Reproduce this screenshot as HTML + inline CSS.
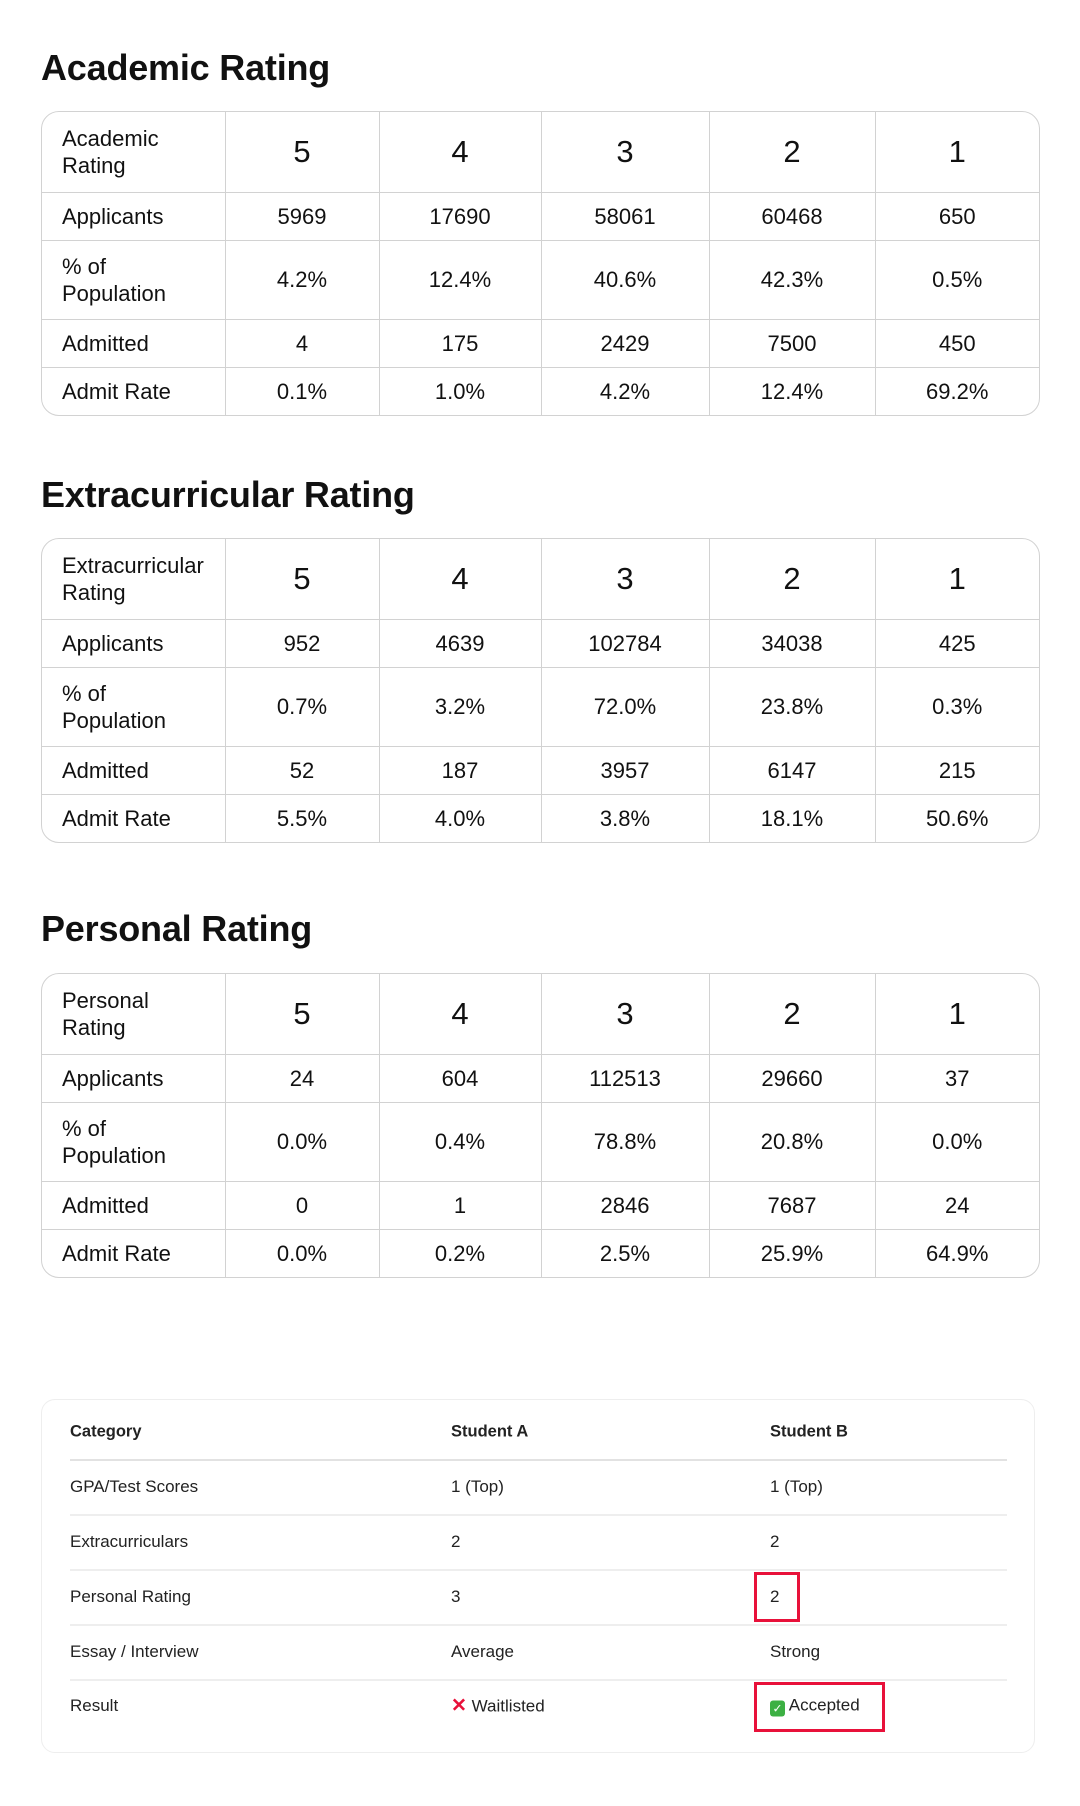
<!DOCTYPE html>
<html><head><meta charset="utf-8"><style>
body{margin:0;background:#fff;width:1080px;height:1806px;position:relative;font-family:"Liberation Sans",sans-serif;color:#111;}
h2{position:absolute;left:41px;margin:0;font-size:36px;font-weight:900;line-height:1;letter-spacing:-0.2px;}
.t{position:absolute;left:41px;width:999px;border:1.5px solid #d2d2d2;border-radius:18px;overflow:hidden;box-sizing:border-box;}
.t table{border-collapse:collapse;width:100%;table-layout:fixed;}
.t td{border-right:1.5px solid #d2d2d2;border-bottom:1.5px solid #d2d2d2;text-align:center;font-size:22px;padding:0;}
.t td:last-child{border-right:none}
.t tr:last-child td{border-bottom:none}
.t td:first-child{text-align:left;padding-left:20px;line-height:27px}
.t tr.h td{font-size:31px;height:80px}
.t tr.h td:first-child{font-size:22px}
.t tr.a td{height:47px}
.t tr.p td{height:78px}
.card{position:absolute;left:41px;top:1399px;width:994px;height:354px;border:1.5px solid #eee;border-radius:14px;box-sizing:border-box;}
.c{position:absolute;font-size:17px;color:#222;transform:translateY(-50%);}
.b{font-weight:bold;font-size:16.5px}
.ln{position:absolute;left:70px;width:937px;height:1.5px;background:#eee}
.box{position:absolute;border:3px solid #e8113a;box-sizing:border-box}
</style></head><body>

<h2 style="top:50px">Academic Rating</h2>
<div class="t" style="top:111px"><table>
<colgroup><col style="width:183px"><col style="width:154px"><col style="width:162px"><col style="width:168px"><col style="width:166px"><col></colgroup>
<tr class="h"><td>Academic<br>Rating</td><td>5</td><td>4</td><td>3</td><td>2</td><td>1</td></tr>
<tr class="a"><td>Applicants</td><td>5969</td><td>17690</td><td>58061</td><td>60468</td><td>650</td></tr>
<tr class="p"><td>% of<br>Population</td><td>4.2%</td><td>12.4%</td><td>40.6%</td><td>42.3%</td><td>0.5%</td></tr>
<tr class="a"><td>Admitted</td><td>4</td><td>175</td><td>2429</td><td>7500</td><td>450</td></tr>
<tr class="a"><td>Admit Rate</td><td>0.1%</td><td>1.0%</td><td>4.2%</td><td>12.4%</td><td>69.2%</td></tr>
</table></div>

<h2 style="top:477px">Extracurricular Rating</h2>
<div class="t" style="top:538px"><table>
<colgroup><col style="width:183px"><col style="width:154px"><col style="width:162px"><col style="width:168px"><col style="width:166px"><col></colgroup>
<tr class="h"><td>Extracurricular<br>Rating</td><td>5</td><td>4</td><td>3</td><td>2</td><td>1</td></tr>
<tr class="a"><td>Applicants</td><td>952</td><td>4639</td><td>102784</td><td>34038</td><td>425</td></tr>
<tr class="p"><td>% of<br>Population</td><td>0.7%</td><td>3.2%</td><td>72.0%</td><td>23.8%</td><td>0.3%</td></tr>
<tr class="a"><td>Admitted</td><td>52</td><td>187</td><td>3957</td><td>6147</td><td>215</td></tr>
<tr class="a"><td>Admit Rate</td><td>5.5%</td><td>4.0%</td><td>3.8%</td><td>18.1%</td><td>50.6%</td></tr>
</table></div>

<h2 style="top:911px">Personal Rating</h2>
<div class="t" style="top:973px"><table>
<colgroup><col style="width:183px"><col style="width:154px"><col style="width:162px"><col style="width:168px"><col style="width:166px"><col></colgroup>
<tr class="h"><td>Personal<br>Rating</td><td>5</td><td>4</td><td>3</td><td>2</td><td>1</td></tr>
<tr class="a"><td>Applicants</td><td>24</td><td>604</td><td>112513</td><td>29660</td><td>37</td></tr>
<tr class="p"><td>% of<br>Population</td><td>0.0%</td><td>0.4%</td><td>78.8%</td><td>20.8%</td><td>0.0%</td></tr>
<tr class="a"><td>Admitted</td><td>0</td><td>1</td><td>2846</td><td>7687</td><td>24</td></tr>
<tr class="a"><td>Admit Rate</td><td>0.0%</td><td>0.2%</td><td>2.5%</td><td>25.9%</td><td>64.9%</td></tr>
</table></div>

<div class="card"></div>
<div class="c b" style="left:70px;top:1432px">Category</div>
<div class="c b" style="left:451px;top:1432px">Student A</div>
<div class="c b" style="left:770px;top:1432px">Student B</div>
<div class="ln" style="top:1459px;height:2px;background:#e2e2e2"></div>
<div class="c" style="left:70px;top:1487px">GPA/Test Scores</div>
<div class="c" style="left:451px;top:1487px">1 (Top)</div>
<div class="c" style="left:770px;top:1487px">1 (Top)</div>
<div class="ln" style="top:1514px"></div>
<div class="c" style="left:70px;top:1542px">Extracurriculars</div>
<div class="c" style="left:451px;top:1542px">2</div>
<div class="c" style="left:770px;top:1542px">2</div>
<div class="ln" style="top:1569px"></div>
<div class="c" style="left:70px;top:1597px">Personal Rating</div>
<div class="c" style="left:451px;top:1597px">3</div>
<div class="c" style="left:770px;top:1597px">2</div>
<div class="box" style="left:754px;top:1572px;width:46px;height:50px"></div>
<div class="ln" style="top:1624px"></div>
<div class="c" style="left:70px;top:1652px">Essay / Interview</div>
<div class="c" style="left:451px;top:1652px">Average</div>
<div class="c" style="left:770px;top:1652px">Strong</div>
<div class="ln" style="top:1679px"></div>
<div class="c" style="left:70px;top:1706px">Result</div>
<div class="c" style="left:451px;top:1706px"><span style="color:#e8113a;font-weight:bold;font-size:19px">✕</span> Waitlisted</div>
<div class="c" style="left:770px;top:1706px"><span style="display:inline-block;width:15px;height:16px;background:#3cb043;border-radius:3px;color:#fff;font-size:12px;text-align:center;line-height:16px;vertical-align:-2px">✓</span> Accepted</div>
<div class="box" style="left:754px;top:1682px;width:131px;height:50px"></div>
</body></html>
